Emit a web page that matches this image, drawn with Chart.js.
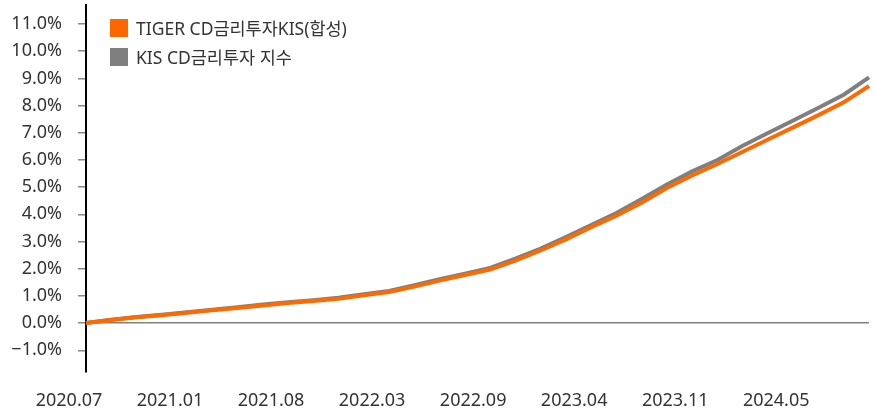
<!DOCTYPE html>
<html>
<head>
<meta charset="utf-8">
<script src="https://cdn.jsdelivr.net/npm/chart.js@4/dist/chart.umd.min.js"></script>
<style>
    body { margin: 0; background: #fff; }
    .wrap { position: relative; width: 876px; height: 412px; }
    .legend { position: absolute; left: 110px; top: 13px; font-family: "Noto Sans", "Noto Sans CJK KR", sans-serif; font-size: 17.5px; color: #333; }
    .legend div { display: flex; align-items: center; height: 29px; }
    .legend span.box { display: inline-block; width: 18px; height: 18px; margin-right: 8px; }
</style>
</head>
<body>
<div class="wrap">
    <canvas id="chart"></canvas>
    <div class="legend">
        <div><span class="box" style="background:#ff6600"></span>TIGER CD금리투자KIS(합성)</div>
        <div><span class="box" style="background:#7f7f7f"></span>KIS CD금리투자 지수</div>
    </div>
</div>
<script>
// Data (cumulative return, %)
const categories = [
    '2020.07', '2020.08', '2020.10', '2020.11',
    '2021.01', '2021.03', '2021.05', '2021.06',
    '2021.08', '2021.10', '2021.12', '2022.01',
    '2022.03', '2022.04', '2022.06', '2022.07',
    '2022.09', '2022.11', '2023.01', '2023.02',
    '2023.04', '2023.06', '2023.08', '2023.09',
    '2023.11', '2023.12', '2024.02', '2024.03',
    '2024.05', '2024.07', '2024.08', '2024.10'
];
const tigerValues = [
    0.00, 0.11, 0.21, 0.29,
    0.38, 0.47, 0.55, 0.65,
    0.74, 0.81, 0.89, 1.02,
    1.14, 1.34, 1.56, 1.77,
    1.97, 2.30, 2.67, 3.08,
    3.53, 3.95, 4.43, 4.97,
    5.43, 5.85, 6.30, 6.75,
    7.20, 7.65, 8.12, 8.72
];
const indexValues = [
    0.00, 0.12, 0.22, 0.31,
    0.40, 0.49, 0.58, 0.68,
    0.77, 0.84, 0.93, 1.06,
    1.18, 1.39, 1.61, 1.82,
    2.03, 2.37, 2.74, 3.16,
    3.61, 4.05, 4.56, 5.10,
    5.58, 6.00, 6.52, 6.99,
    7.45, 7.92, 8.40, 9.04
];
const yTicks = [-1, 0, 1, 2, 3, 4, 5, 6, 7, 8, 9, 10, 11];

const font = { family: '"Noto Sans", "Noto Sans CJK KR", sans-serif', size: 18 };

const ctx = document.getElementById('chart').getContext('2d');
new Chart(ctx, {
    type: 'line',
    data: {
        labels: categories,
        datasets: [{
            label: 'TIGER CD금리투자KIS(합성)',
            data: tigerValues,
            borderColor: '#ff6a00',
            borderWidth: 4,
            pointRadius: 0,
            tension: 0
        }, {
            label: 'KIS CD금리투자 지수',
            data: indexValues,
            borderColor: '#7f7f7f',
            borderWidth: 4,
            pointRadius: 0,
            tension: 0
        }]
    },
    options: {
        responsive: true,
        maintainAspectRatio: false,
        animation: false,
        layout: { padding: { top: 5, right: 7, left: 0, bottom: 0 } },
        plugins: {
            legend: { display: false },
            tooltip: { enabled: false }
        },
        scales: {
            x: {
                offset: false,
                grid: { display: false, drawTicks: false },
                border: { display: false },
                afterFit: function(scale) {
                    scale.height = 40;
                    scale.paddingLeft = 0;
                    scale.paddingRight = 0;
                },
                ticks: {
                    autoSkip: false,
                    maxRotation: 0,
                    padding: 18,
                    labelOffset: -17,
                    color: '#333',
                    font: font,
                    callback: function(value, index) {
                        return index % 4 === 0 ? categories[index] : '';
                    }
                }
            },
            y: {
                min: -1.8,
                max: 11.7,
                afterFit: function(scale) {
                    scale.width = 86;
                    scale.paddingTop = 0;
                    scale.paddingBottom = 0;
                },
                afterBuildTicks: function(scale) {
                    scale.ticks = yTicks.map(v => ({ value: v }));
                },
                border: { display: true, color: '#000', width: 2 },
                grid: {
                    drawOnChartArea: true,
                    drawTicks: true,
                    tickLength: 8,
                    tickColor: '#888',
                    lineWidth: 1.5,
                    color: function(c) {
                        return c.tick && c.tick.value === 0 ? '#808080' : 'rgba(0,0,0,0)';
                    }
                },
                ticks: {
                    padding: 16,
                    color: '#333',
                    font: font,
                    callback: function(value) {
                        const s = Math.abs(value).toFixed(1) + '%';
                        return value < 0 ? '\u2212' + s : s;
                    }
                }
            }
        }
    }
});
</script>
</body>
</html>
